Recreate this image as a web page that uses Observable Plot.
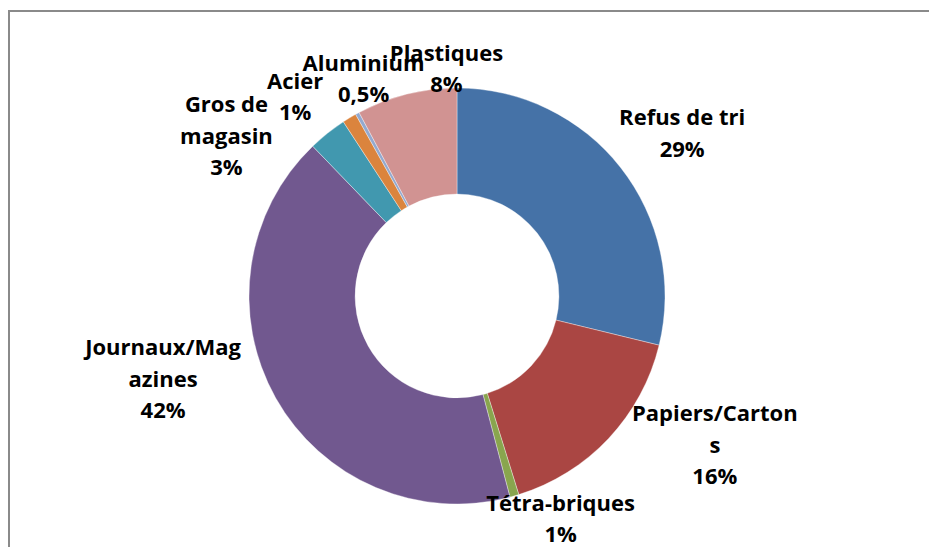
<!DOCTYPE html>
<html><head><meta charset="utf-8">
<script src="https://cdn.jsdelivr.net/npm/d3@7"></script>
<script src="https://cdn.jsdelivr.net/npm/@observablehq/plot@0.6"></script>
<style>
html,body{margin:0;padding:0;background:#fff;overflow:hidden;}
#wrap{position:relative;width:929px;height:547px;overflow:hidden;}
#border{position:absolute;left:8px;top:10px;width:1000px;height:1000px;border-left:2px solid #8a8a8a;border-top:2px solid #8a8a8a;}
#chart{position:absolute;left:0;top:0;}
</style></head><body>
<div id="wrap"><div id="border"></div><div id="chart"></div></div>
<script>
// ---- data ----
const categories = ["Refus de tri","Papiers/Cartons","Tétra-briques","Journaux/Magazines","Gros de magasin","Acier","Aluminium","Plastiques"];
const shares = [28.8, 16.4, 0.7, 41.9, 3.0, 1.1, 0.3, 7.8];
const valueLabels = ["29%","16%","1%","42%","3%","1%","0,5%","8%"];
const labelNames = ["Refus de tri","Papiers/Carton\ns","Tétra-briques","Journaux/Mag\nazines","Gros de\nmagasin","Acier","Aluminium","Plastiques"];

// ---- style / layout ----
const colors = ["#4572A7","#AA4643","#89A54E","#71588F","#4198AF","#DB843D","#93A9CF","#D19392"];
const cx = 457, cy = 296, R = 208, innerFrac = 0.49;
const labelNudgeDeg = [1.8, -13.6, -9.1, 14.1, -16.3, -7.6, 5.5, 11.3];
const labelRadius = [1.341, 1.423, 1.168, 1.467, 1.359, 1.247, 1.150, 1.107];

const data = categories.map((c, i) => ({category: c, share: shares[i], color: colors[i]}));
const pie = d3.pie().sort(null).value(d => d.share)(data);

const labels = pie.map((a, i) => {
  const th = (a.startAngle + a.endAngle) / 2 + labelNudgeDeg[i] * Math.PI / 180;
  const k = labelRadius[i];
  return {x: k * Math.sin(th), y: k * Math.cos(th), text: labelNames[i] + "\n" + valueLabels[i]};
});

function donut(index, scales) {
  const x0 = scales.x(0), y0 = scales.y(0);
  const r = scales.x(1) - scales.x(0);
  const arc = d3.arc().outerRadius(r).innerRadius(r * innerFrac);
  const g = d3.create("svg:g").attr("transform", `translate(${x0},${y0})`);
  g.selectAll("path").data(pie).join("path")
    .attr("d", arc)
    .attr("fill", d => d.data.color)
    .attr("stroke", "#ffffff")
    .attr("stroke-opacity", 0.6)
    .attr("stroke-width", 0.6);
  return g.node();
}

const chart = Plot.plot({
  width: 929,
  height: 547,
  margin: 0,
  style: {background: "transparent", overflow: "visible"},
  x: {domain: [-1, 1], range: [cx - R, cx + R], axis: null},
  y: {domain: [-1, 1], range: [cy + R, cy - R], axis: null},
  marks: [
    donut,
    Plot.text(labels, {
      x: "x", y: "y", text: "text",
      fontFamily: "Open Sans", fontWeight: "bold", fontSize: 22,
      lineHeight: 1.43, fill: "#000000", textAnchor: "middle"
    })
  ]
});
document.getElementById("chart").appendChild(chart);
</script>
</body></html>
